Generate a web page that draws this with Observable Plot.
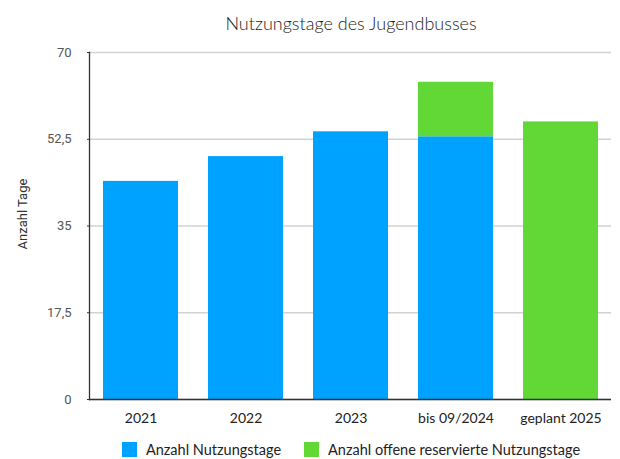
<!DOCTYPE html>
<html>
<head>
<meta charset="utf-8">
<script src="https://cdn.jsdelivr.net/npm/d3@7"></script>
<script src="https://cdn.jsdelivr.net/npm/@observablehq/plot@0.6"></script>
<style>
  html, body { margin: 0; padding: 0; background: #fff; }
  body { width: 620px; height: 459px; overflow: hidden; font-family: Lato, "Noto Sans", sans-serif; }
  #title { height: 40px; box-sizing: border-box; padding-top: 12px; padding-left: 89px; width: 613px; text-align: center; font-size: 18px; font-weight: 300; color: #222; line-height: 22px; }
  #legend { display: flex; justify-content: center; align-items: center; margin-left: 89px; width: 524px; height: 31px; padding-top: 6px; font-size: 14.5px; color: #222; gap: 23px; }
  .item { display: flex; align-items: center; gap: 9px; }
  .sw { width: 15px; height: 15px; display: inline-block; }
</style>
</head>
<body>
<div id="title">Nutzungstage des Jugendbusses</div>
<div id="chart"></div>
<div id="legend"></div>
<script>
const categories = ["2021", "2022", "2023", "bis 09/2024", "geplant 2025"];
const seriesNames = ["Anzahl Nutzungstage", "Anzahl offene reservierte Nutzungstage"];
const nutzungstage = [44, 49, 54, 53, 0];
const offeneReserviert = [0, 0, 0, 11, 56];
const colors = ["#00A2FF", "#61D836"];
const yTicks = [0, 17.5, 35, 52.5, 70];

const data = [];
categories.forEach((c, i) => {
  data.push({cat: c, series: seriesNames[0], value: nutzungstage[i]});
  data.push({cat: c, series: seriesNames[1], value: offeneReserviert[i]});
});

const chart = Plot.plot({
  width: 620,
  height: 388,
  marginLeft: 89,
  marginRight: 9,
  marginTop: 12,
  marginBottom: 29,
  style: {fontFamily: "Lato, 'Noto Sans', sans-serif", fontSize: "14px", color: "#333"},
  x: {domain: categories, paddingInner: 0.286, paddingOuter: 0.12, label: null},
  y: {domain: [0, 70], label: null},
  color: {domain: seriesNames, range: colors},
  marks: [
    Plot.gridY(yTicks, {stroke: "#d2d2d2", strokeOpacity: 1, strokeWidth: 1.5}),
    Plot.barY(data, {x: "cat", y: "value", fill: "series", order: seriesNames}),
    Plot.ruleY([0], {stroke: "#333", strokeWidth: 1.3}),
    Plot.frame({anchor: "left", stroke: "#333", strokeWidth: 1.3}),
    Plot.axisY(yTicks, {tickSize: 2, tickPadding: 16, tickFormat: d => String(d).replace(".", ","), fontFamily: "Roboto, 'Noto Sans', sans-serif", fontSize: 13, fill: "#555", label: null}),
    Plot.axisX({tickSize: 0, tickPadding: 14, fontSize: 14, fill: "#222", label: null}),
    Plot.text(["Anzahl Tage"], {frameAnchor: "left", textAnchor: "middle", dx: -67, dy: -12, rotate: -90, fontFamily: "Roboto, 'Noto Sans', sans-serif", fontSize: 13, fill: "#333"})
  ]
});
document.getElementById("chart").appendChild(chart);

const legend = document.getElementById("legend");
seriesNames.forEach((s, i) => {
  const it = document.createElement("div");
  it.className = "item";
  const sw = document.createElement("span");
  sw.className = "sw";
  sw.style.background = colors[i];
  const t = document.createElement("span");
  t.textContent = s;
  it.appendChild(sw);
  it.appendChild(t);
  legend.appendChild(it);
});
</script>
</body>
</html>
